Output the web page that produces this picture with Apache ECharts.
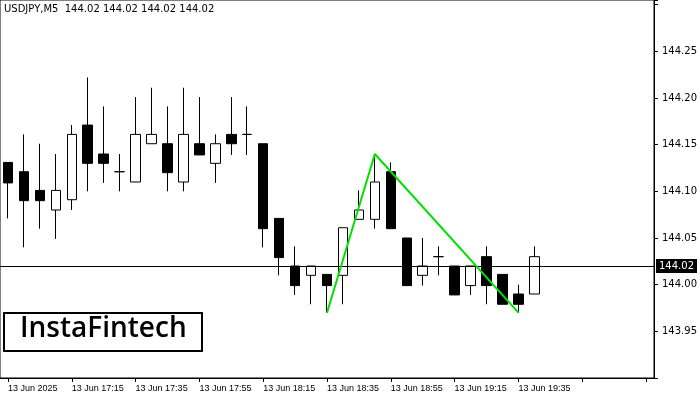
<!DOCTYPE html><html><head><meta charset="utf-8"><script src="https://cdn.jsdelivr.net/npm/echarts@6/dist/echarts.min.js"></script>
<style>body{margin:0}#c{width:700px;height:400px}</style></head><body><div id="c"></div><script>
const times=['13 Jun 2025','17:00','17:05','17:10','13 Jun 17:15','17:20','17:25','17:30','13 Jun 17:35','17:40','17:45','17:50','13 Jun 17:55','18:00','18:05','18:10','13 Jun 18:15','18:20','18:25','18:30','13 Jun 18:35','18:40','18:45','18:50','13 Jun 18:55','19:00','19:05','19:10','13 Jun 19:15','19:20','19:25','19:30','13 Jun 19:35','19:40'];
// [open, close, low, high]
const ohlc=[
[144.131,144.109,144.071,144.131],[144.121,144.090,144.040,144.161],[144.101,144.090,144.060,144.151],[144.080,144.101,144.049,144.140],
[144.091,144.161,144.080,144.171],[144.171,144.130,144.100,144.222],[144.140,144.130,144.109,144.191],[144.121,144.121,144.100,144.140],
[144.110,144.161,144.110,144.201],[144.151,144.161,144.151,144.211],[144.151,144.120,144.100,144.191],[144.110,144.161,144.100,144.211],
[144.151,144.139,144.139,144.201],[144.130,144.151,144.109,144.161],[144.161,144.151,144.139,144.201],[144.161,144.161,144.139,144.191],
[144.151,144.060,144.040,144.151],[144.071,144.029,144.010,144.071],[144.020,143.999,143.989,144.041],[144.010,144.020,143.979,144.020],
[144.011,143.999,143.970,144.011],[144.010,144.061,143.979,144.061],[144.070,144.080,144.070,144.101],[144.070,144.110,144.060,144.140],
[144.121,144.060,144.060,144.131],[144.050,143.999,143.999,144.050],[144.010,144.020,143.999,144.050],[144.030,144.030,144.010,144.041],
[144.020,143.989,143.989,144.020],[143.999,144.020,143.989,144.020],[144.030,143.999,143.979,144.041],[144.011,143.979,143.979,144.011],
[143.990,143.979,143.970,144.000],[143.990,144.030,143.990,144.041]];
const pattern=[[20,143.97],[23,144.14],[32,143.97]];
const current=144.02;
const yTicks=[143.95,144.00,144.05,144.10,144.15,144.20,144.25];
const cats=times.concat(['','','','','','','']);
const ch=echarts.init(document.getElementById('c'));
ch.setOption({animation:false,
grid:{left:-4,right:40,top:0,bottom:22,show:true,borderColor:'#000',borderWidth:1},
xAxis:{type:'category',data:cats,boundaryGap:true,axisLine:{lineStyle:{color:'#000'}},axisTick:{show:true,alignWithLabel:true,interval:3,length:4,lineStyle:{color:'#000'}},
 axisLabel:{interval:0,color:'#000',fontSize:9,fontFamily:'Liberation Sans',align:'left',margin:6,formatter:(v,i)=>(i%4===0&&i<=32)?v:''},splitLine:{show:false}},
yAxis:{type:'value',position:'right',min:143.9,max:144.305,interval:0.05,
 axisLabel:{color:'#000',fontSize:10,fontFamily:'DejaVu Sans',margin:8,formatter:v=>{const r=Math.round(v*100)/100;return (yTicks.some(t=>Math.abs(t-r)<1e-6)&&Math.abs(v-r)<1e-6)?r.toFixed(2):'';}},
 axisLine:{show:true,lineStyle:{color:'#000'}},axisTick:{show:true,length:4},splitLine:{show:false}},
series:[{type:'candlestick',data:ohlc,barWidth:10,
 itemStyle:{color:'#fff',color0:'#000',borderColor:'#000',borderColor0:'#000',borderWidth:1},
 markLine:{silent:true,symbol:'none',data:[{yAxis:current}],lineStyle:{color:'#000',width:1,type:'solid'},
  label:{position:'end',formatter:current.toFixed(2),color:'#fff',backgroundColor:'#000',padding:[2,3],fontSize:10,fontFamily:'DejaVu Sans',distance:2}}},
 {type:'line',data:pattern,symbol:'none',lineStyle:{color:'#00e000',width:2},z:5}],
graphic:[{type:'rect',left:3,top:312,shape:{width:198,height:38},style:{fill:'#fff',stroke:'#000',lineWidth:2},z:10},
 {type:'text',left:20,top:315,style:{text:'InstaFintech',font:'600 28px "Open Sans"',fill:'#000'},z:11},
 {type:'text',left:4,top:4,style:{text:'USDJPY,M5  144.02 144.02 144.02 144.02',font:'10px "DejaVu Sans"',fill:'#000'},z:11}]
});
</script></body></html>
